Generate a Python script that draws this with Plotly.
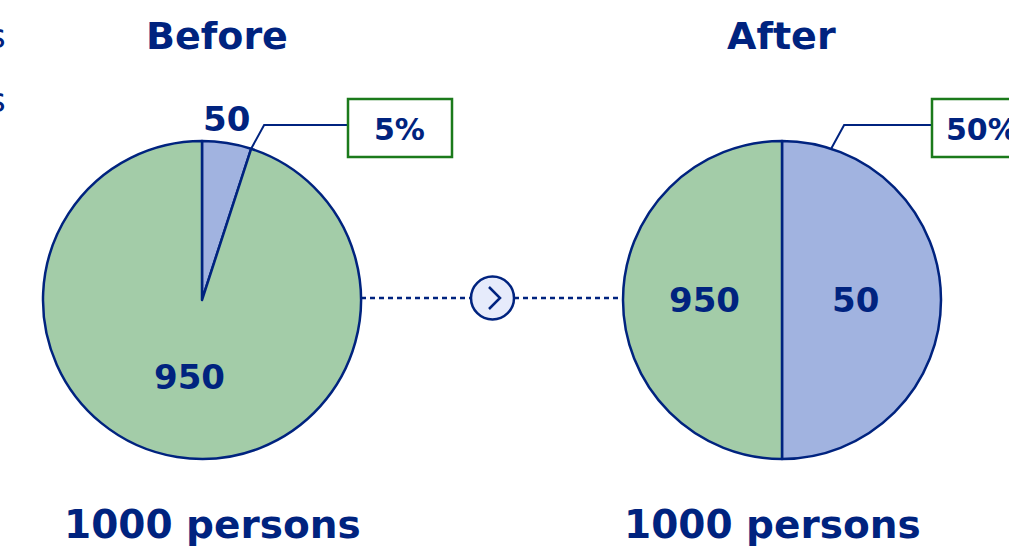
import math
import plotly.graph_objects as go

# ---- data ----
categories = ["Blue group", "Green group"]
before_counts = [50, 950]          # persons
after_counts = [50, 950]           # persons (displayed label)
after_shares = [50, 50]            # percent of pie after weighting
before_share_label = "5%"
after_share_label = "50%"
titles = ["Before", "After"]
totals = ["1000 persons", "1000 persons"]

# ---- style ----
W, H = 1009, 551
DARK = "#00237f"
COLORS = ["#a1b3e0", "#a3cca8"]
INSIDE_FRAC = [0.46, 0.49]
BOX = "#1b7a1b"
FONT = "DejaVu Sans"

def px(x):
    return x / W

def py(y):
    return 1 - y / H

R = 159
centers = [(202, 300), (782, 300)]

fig = go.Figure()

pie_values = [before_counts, after_shares]
for (cx, cy), vals in zip(centers, pie_values):
    fig.add_trace(go.Pie(
        labels=categories, values=vals, sort=False, direction="clockwise",
        rotation=0, textinfo="none", hoverinfo="label+value",
        marker=dict(colors=COLORS, line=dict(color=DARK, width=2.5)),
        domain=dict(x=[px(cx - R), px(cx + R)], y=[py(cy + R), py(cy - R)]),
        showlegend=False,
    ))

ann = []
shapes = []

def bisector_pos(cx, cy, vals, i, frac, shrink=1.0):
    tot = sum(vals)
    start = sum(vals[:i]) / tot * 360
    mid = (start + vals[i] / tot * 180) * shrink
    a = math.radians(mid)
    return cx + frac * R * math.sin(a), cy - frac * R * math.cos(a)

title_x = [217, 781]
total_x = [212, 772]
for k, ((cx, cy), vals, counts) in enumerate(zip(centers, pie_values, [before_counts, after_counts])):
    for i, c in enumerate(counts):
        share = vals[i] / sum(vals)
        if share < 0.1:
            x, y = bisector_pos(cx, cy, vals, i, 1.15, shrink=0.85)
        else:
            x, y = bisector_pos(cx, cy, vals, i, INSIDE_FRAC[i])
        ann.append(dict(x=px(x), y=py(y), xref="paper", yref="paper", text=f"<b>{c}</b>",
                        showarrow=False, font=dict(family=FONT, size=34, color=DARK),
                        xanchor="center", yanchor="middle"))
    ann.append(dict(x=px(title_x[k]), y=py(36), xref="paper", yref="paper",
                    text=f"<b>{titles[k]}</b>", showarrow=False,
                    font=dict(family=FONT, size=38, color=DARK), xanchor="center", yanchor="middle"))
    ann.append(dict(x=px(total_x[k]), y=py(524), xref="paper", yref="paper",
                    text=f"<b>{totals[k]}</b>", showarrow=False,
                    font=dict(family=FONT, size=39, color=DARK), xanchor="center", yanchor="middle"))

    # leader line and share box
    a = math.radians(18)
    sx, sy = cx + R * math.sin(a), cy - R * math.cos(a)
    ex, ey = sx + 13, 125
    bx0 = cx + 146 if k == 0 else cx + 150
    shapes.append(dict(type="path", xref="paper", yref="paper",
                       path=f"M {px(sx)} {py(sy)} L {px(ex)} {py(ey)} L {px(bx0)} {py(ey)}",
                       line=dict(color=DARK, width=2)))
    bw = 104 if k == 0 else 110
    shapes.append(dict(type="rect", xref="paper", yref="paper",
                       x0=px(bx0), x1=px(bx0 + bw), y0=py(157), y1=py(99),
                       line=dict(color=BOX, width=2.5), fillcolor="white"))
    lab = before_share_label if k == 0 else after_share_label
    ann.append(dict(x=px(bx0 + 24 if k == 0 else bx0 + 12), y=py(129), xref="paper", yref="paper",
                    text=f"<b>{lab}</b>", showarrow=False,
                    font=dict(family=FONT, size=30, color=DARK), xanchor="left", yanchor="middle"))

# connector between pies
ccx, ccy, cr = 492.5, 298, 21.5
shapes.append(dict(type="line", xref="paper", yref="paper", x0=px(centers[0][0] + R), x1=px(ccx - cr),
                   y0=py(ccy), y1=py(ccy), line=dict(color=DARK, width=2.5, dash="5px,4px")))
shapes.append(dict(type="line", xref="paper", yref="paper", x0=px(ccx + cr), x1=px(centers[1][0] - R),
                   y0=py(ccy), y1=py(ccy), line=dict(color=DARK, width=2.5, dash="5px,4px")))
shapes.append(dict(type="circle", xref="paper", yref="paper", x0=px(ccx - cr), x1=px(ccx + cr),
                   y0=py(ccy + cr), y1=py(ccy - cr), line=dict(color=DARK, width=2.5), fillcolor="#e6ebfb"))
shapes.append(dict(type="path", xref="paper", yref="paper",
                   path=f"M {px(489)} {py(287)} L {px(500)} {py(298)} L {px(489)} {py(309)}",
                   line=dict(color=DARK, width=2.5)))

# clipped legend text at left edge
for yy in [36, 100]:
    ann.append(dict(x=px(8), y=py(yy), xref="paper", yref="paper", text="s", showarrow=False,
                    font=dict(family=FONT, size=34, color=DARK), xanchor="right", yanchor="middle"))

fig.update_layout(width=W, height=H, margin=dict(l=0, r=0, t=0, b=0),
                  paper_bgcolor="white", plot_bgcolor="white",
                  annotations=ann, shapes=shapes, showlegend=False)
fig.write_html("out.html", config={"displayModeBar": False},
               post_script="document.body.style.margin='0';document.body.style.overflow='hidden';")
